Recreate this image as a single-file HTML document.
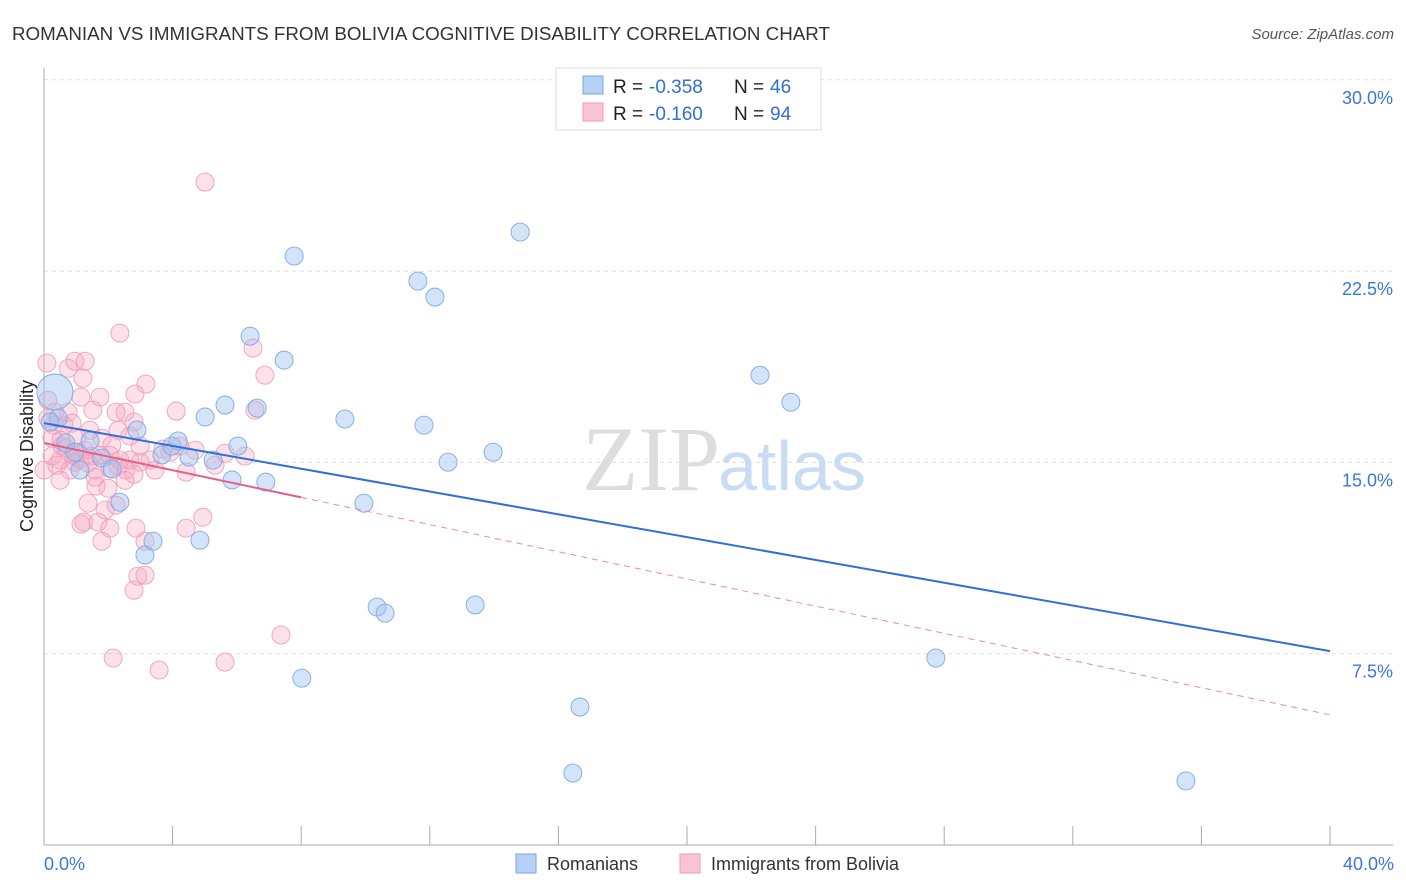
<!DOCTYPE html>
<html><head><meta charset="utf-8"><style>
body{margin:0;background:#fff;font-family:"Liberation Sans",sans-serif}
svg{display:block}
</style></head><body>
<svg id="chart" width="1406" height="892">
<text x="12" y="40" font-size="18" fill="#333" textLength="818" lengthAdjust="spacingAndGlyphs">ROMANIAN VS IMMIGRANTS FROM BOLIVIA COGNITIVE DISABILITY CORRELATION CHART</text>
<text x="1394" y="39" font-size="15" font-style="italic" fill="#555" text-anchor="end">Source: ZipAtlas.com</text>
<text x="33" y="456" font-size="18" fill="#222" text-anchor="middle" transform="rotate(-90 33 456)">Cognitive Disability</text>
<g id="grid"></g>
<text x="720" y="490" font-size="92" font-family="Liberation Serif,serif" fill="#ddd" text-anchor="end">ZIP</text>
<text x="718" y="490" font-size="70" fill="#c9dcf3">atlas</text>
<g id="points"></g>
<g id="trends"></g>
<g>
<rect x="556" y="68" width="265" height="62" fill="#fff" stroke="#ddd"/>
<rect x="583" y="76" width="20" height="18" fill="#b5d1f5" stroke="#7aa7e0"/>
<rect x="583" y="103" width="20" height="18" fill="#f9c4d4" stroke="#ee9ab5"/>
<text x="613" y="93" font-size="19" fill="#222">R =</text>
<text x="649" y="93" font-size="19" fill="#2f6fd6">-0.358</text>
<text x="734" y="93" font-size="19" fill="#222">N =</text>
<text x="770" y="93" font-size="19" fill="#2f6fd6">46</text>
<text x="613" y="120" font-size="19" fill="#222">R =</text>
<text x="649" y="120" font-size="19" fill="#2f6fd6">-0.160</text>
<text x="734" y="120" font-size="19" fill="#222">N =</text>
<text x="770" y="120" font-size="19" fill="#2f6fd6">94</text>
</g>
<g>
<rect x="516" y="854" width="20" height="19" fill="#b5d1f5" stroke="#7aa7e0"/>
<text x="547" y="870" font-size="18" fill="#333">Romanians</text>
<rect x="680" y="854" width="20" height="19" fill="#f9c4d4" stroke="#ee9ab5"/>
<text x="711" y="870" font-size="18" fill="#333">Immigrants from Bolivia</text>
</g>
<text x="44" y="870" font-size="18" fill="#3a78d8">0.0%</text>
<text x="1394" y="870" font-size="18" fill="#3a78d8" text-anchor="end">40.0%</text>
</svg>
<script>
const yTicks=[7.5,15,22.5,30];
const yTickLabels=["7.5%","15.0%","22.5%","30.0%"];
const xTicks=[0,4,8,12,16,20,24,28,32,36,40];
const blueX=[0.34,0.44,0.68,0.96,1.80,2.12,2.36,2.89,3.14,3.39,3.67,3.98,4.17,4.51,4.85,5.01,5.26,5.63,5.85,6.03,6.41,6.63,6.90,7.47,7.78,8.02,9.36,9.95,10.36,10.61,11.63,11.82,12.16,12.57,13.41,13.97,14.81,16.45,16.67,22.27,23.23,27.74,35.52,1.43,0.19,1.12];
const blueY=[17.76,16.74,15.76,15.40,15.17,14.74,13.44,16.27,11.37,11.91,15.29,15.64,15.84,15.21,11.95,16.78,15.09,17.25,14.31,15.64,19.95,17.13,14.23,19.01,23.09,6.54,16.70,13.40,9.33,9.09,22.11,16.46,21.48,15.01,9.41,15.40,24.03,2.82,5.41,18.42,17.36,7.33,2.51,15.84,16.58,14.70];
const pinkX=[5.01,2.36,0.09,0.96,1.28,0.75,1.21,3.17,2.83,1.15,1.74,1.52,2.52,2.24,4.11,6.56,0.34,0.12,0.87,0.31,0.62,0.53,1.03,1.80,2.67,2.80,2.30,2.99,2.11,0.68,0.25,0.40,0.81,1.37,1.59,2.05,2.30,2.55,1.12,1.49,0.50,3.30,3.70,4.42,5.63,6.25,6.50,6.87,1.62,1.99,2.52,2.80,1.37,1.90,2.24,1.24,1.68,2.05,1.15,1.80,2.86,3.14,4.42,4.94,2.92,3.14,2.80,2.15,3.58,5.63,7.37,0.00,0.12,0.56,0.90,1.28,1.74,2.36,2.99,3.45,3.92,4.23,4.70,5.32,2.67,0.50,0.96,1.59,2.05,0.25,0.75,1.06,1.43];
const pinkY=[25.99,20.07,18.89,18.97,18.97,18.69,18.30,18.07,17.68,17.56,17.56,17.05,16.97,16.97,17.01,17.05,16.97,17.44,16.54,16.46,16.46,15.87,15.99,15.95,16.03,16.58,16.26,15.64,15.68,15.56,15.25,14.89,14.70,14.97,14.70,14.77,14.85,14.70,15.13,15.25,15.09,15.09,15.52,14.62,15.36,15.25,19.48,18.42,14.07,13.99,14.30,14.54,13.40,13.13,13.32,12.66,12.66,12.42,12.58,11.91,12.42,11.91,12.42,12.85,10.54,10.58,9.99,7.33,6.86,7.17,8.23,14.70,16.73,15.64,15.28,15.48,15.28,15.09,15.01,14.70,15.40,15.64,15.48,14.89,15.09,14.30,15.01,14.42,15.28,15.95,16.97,15.40,16.26];
const blueTrend=[16.54,7.60];
const pinkTrend=[15.76,5.10];
const pinkSolidEnd=8;
const NS="http://www.w3.org/2000/svg";
function xs(v){return 44+v*(1286/40);}
function ys(v){return 845-v*(191.3/7.5);}
function mk(tag,attrs,parent){const e=document.createElementNS(NS,tag);for(const k in attrs)e.setAttribute(k,attrs[k]);parent.appendChild(e);return e;}
const grid=document.getElementById('grid');
yTicks.forEach((t,i)=>{
 const l=mk('line',{x1:44,x2:1393,y1:ys(t),y2:ys(t),stroke:'#ddd','stroke-dasharray':'4 4'},grid);
 
 
 const tx=mk('text',{x:1393,y:ys(t)+24,'font-size':18,fill:'#3a78d8','text-anchor':'end'},grid);
 tx.textContent=yTickLabels[i];
 
 
});
const ax=mk('line',{x1:44,x2:44,y1:68,y2:845,stroke:'#aaa'},grid);


const bx=mk('line',{x1:44,x2:1393,y1:845,y2:845,stroke:'#aaa'},grid);


xTicks.forEach(t=>{
 const l=mk('line',{x1:xs(t),x2:xs(t),y1:826,y2:845,stroke:'#aaa'},grid);
 
 
});
const pts=document.getElementById('points');
pinkX.forEach((x,i)=>{
 const c=mk('circle',{cx:xs(x),cy:ys(pinkY[i]),r:9,fill:'rgba(245,165,192,0.33)',stroke:'#f0a0bb','stroke-width':0.9},pts);
 
 
});
blueX.forEach((x,i)=>{
 const c=mk('circle',{cx:xs(x),cy:ys(blueY[i]),r:i===0?18:9,fill:'rgba(160,196,240,0.45)',stroke:'#7eaae3','stroke-width':0.9},pts);
 
 
});
const tr=document.getElementById('trends');
const b=mk('line',{x1:xs(0),y1:ys(blueTrend[0]),x2:xs(40),y2:ys(blueTrend[1]),stroke:'#2f6fd6','stroke-width':2},tr);


const pe=pinkTrend[0]+(pinkTrend[1]-pinkTrend[0])*pinkSolidEnd/40;
const p1=mk('line',{x1:xs(0),y1:ys(pinkTrend[0]),x2:xs(pinkSolidEnd),y2:ys(pe),stroke:'#e5608a','stroke-width':2},tr);


const p2=mk('line',{x1:xs(pinkSolidEnd),y1:ys(pe),x2:xs(40),y2:ys(pinkTrend[1]),stroke:'#eb8aa8','stroke-width':1,'stroke-dasharray':'6 5'},tr);


</script>
</body></html>
